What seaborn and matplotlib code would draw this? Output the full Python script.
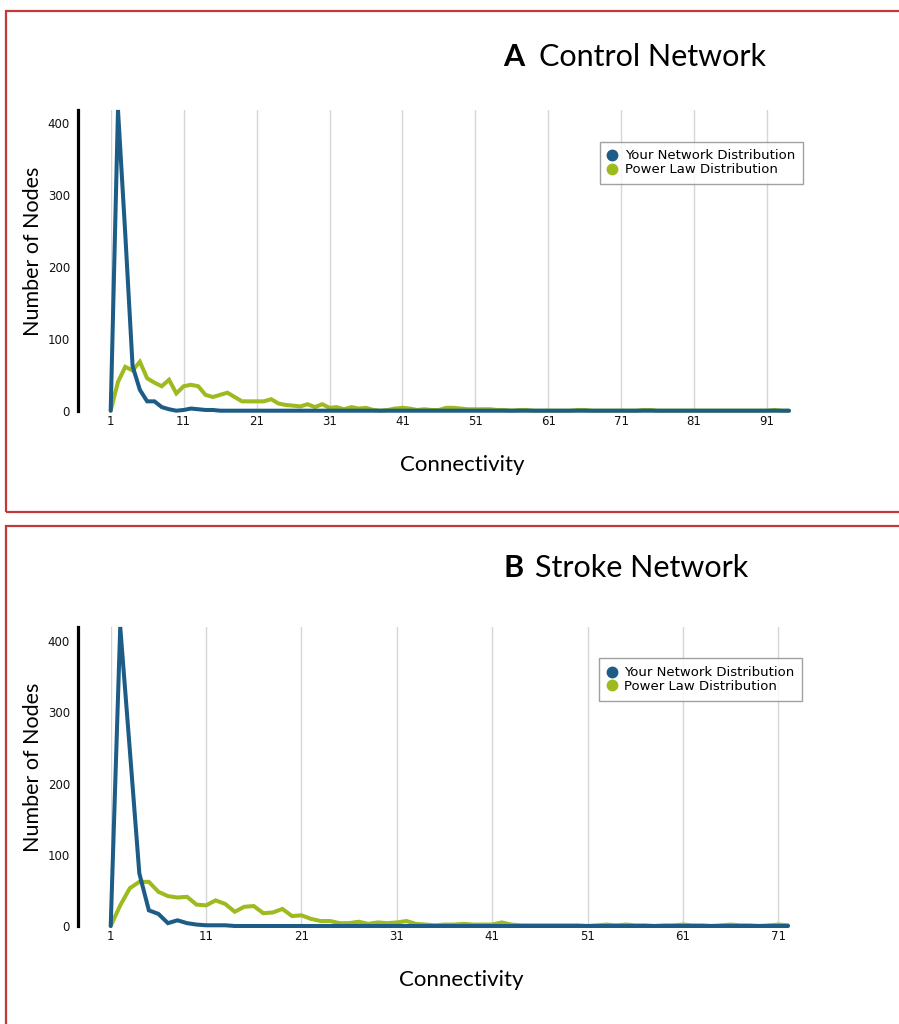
import matplotlib
matplotlib.use("Agg")
import matplotlib.pyplot as plt
from matplotlib.lines import Line2D
from matplotlib.patches import Rectangle
import seaborn as sns
import pandas as pd

# ---- data ---------------------------------------------------------------
control_network = [0, 418, 245, 62, 29, 13, 13, 5, 2, 0,
                   1, 3, 2, 1, 1, 0, 0, 0, 0, 0] + [0] * 74
control_power = [0, 40, 61, 56, 68, 45, 39, 34, 43, 24,
                 34, 36, 34, 22, 19, 22, 25, 19, 13, 13,
                 13, 13, 16, 10, 8, 7, 6, 9, 5, 9,
                 4, 5, 2, 5, 3, 4, 1, 0, 1, 3,
                 4, 3, 1, 2, 1, 1, 4, 4, 3, 2,
                 2, 2, 2, 1, 1, 0, 1, 1, 0, 0,
                 0, 0, 0, 0, 1, 1, 0, 0, 0, 0,
                 0, 0, 0, 1, 1, 0, 0, 0, 0, 0,
                 0, 0, 0, 0, 0, 0, 0, 0, 0, 0,
                 0, 1, 0, 0]

stroke_network = [0, 420, 248, 74, 22, 17, 4, 8, 4, 2,
                  1, 1, 1, 0] + [0] * 58
stroke_power = [0, 29, 53, 62, 62, 48, 42, 40, 41, 30,
                29, 36, 31, 20, 27, 28, 18, 19, 24, 14,
                15, 10, 7, 7, 4, 4, 6, 3, 5, 4,
                5, 7, 3, 2, 1, 2, 2, 3, 2, 2,
                2, 5, 2, 1, 1, 1, 1, 1, 1, 1,
                0, 1, 2, 1, 2, 1, 1, 0, 1, 1,
                2, 1, 1, 0, 1, 2, 1, 1, 0, 1,
                2, 1]

series_names = ["Your Network Distribution", "Power Law Distribution"]
series_colors = {"Your Network Distribution": "#1d5c87",
                 "Power Law Distribution": "#9dbb1e"}

panels = [
    ("A", "Control Network", control_network, control_power, list(range(1, 92, 10))),
    ("B", "Stroke Network", stroke_network, stroke_power, list(range(1, 72, 10))),
]

# ---- style --------------------------------------------------------------
sns.set_style("white")
plt.rcParams["font.family"] = ["DejaVu Sans"]
plt.rcParams["text.color"] = "black"
plt.rcParams["axes.labelcolor"] = "black"

W, H = 899, 1024
fig = plt.figure(figsize=(W / 100, H / 100), dpi=100)

# axes rectangles (figure fractions)
axes_rects = [
    (110.7 / W, 1 - 410.7 / H, 678.3 / W, 300.7 / H),
    (110.7 / W, 1 - 926.0 / H, 677.3 / W, 299.0 / H),
]
frame_tops = [10.7, 525.7]
frame_bottoms = [511.7, 1030]
title_y = [57, 568]
title_rest_x = [539, 535]

for i, (letter, name, net, power, ticks) in enumerate(panels):
    # red panel frame
    fig.patches.append(Rectangle((6 / W, 1 - frame_bottoms[i] / H),
                                 (W + 10) / W, (frame_bottoms[i] - frame_tops[i]) / H,
                                 transform=fig.transFigure, fill=False,
                                 edgecolor="#c0393b", linewidth=1.6))
    # panel title
    fig.text(503 / W, 1 - title_y[i] / H, letter, fontsize=22, fontweight="bold",
             family="Lato", va="center", ha="left")
    fig.text(title_rest_x[i] / W, 1 - title_y[i] / H, name, fontsize=22,
             family="Lato", va="center", ha="left")

    ax = fig.add_axes(axes_rects[i])
    n = len(net)
    x = list(range(1, n + 1))
    df = pd.DataFrame({
        "Connectivity": x + x,
        "Nodes": net + power,
        "Series": [series_names[0]] * n + [series_names[1]] * n,
    })
    sns.lineplot(data=df, x="Connectivity", y="Nodes", hue="Series",
                 hue_order=[series_names[1], series_names[0]],
                 palette=series_colors, linewidth=2.9, ax=ax, legend=False)
    for ln in ax.lines:
        ln.set_clip_on(False)
        ln.set_solid_joinstyle("miter")

    ymax = max(net)
    ax.set_xlim(1, n)
    ax.set_ylim(0, ymax)

    # x axis: labels and light vertical grid only
    ax.set_xticks(ticks)
    ax.grid(axis="x", color="#d6d6d6", linewidth=1.0)
    ax.grid(axis="y", visible=False)
    ax.tick_params(axis="x", length=0, pad=3, labelsize=8.5, labelcolor="#111111")
    for s in ("top", "right", "bottom"):
        ax.spines[s].set_visible(False)

    # y axis: offset bracket-style axis
    ax.spines["left"].set_position(("outward", 23.5))
    ax.spines["left"].set_bounds(0, ymax)
    ax.spines["left"].set_linewidth(2.3)
    ax.spines["left"].set_color("black")
    ax.set_yticks([0, 100, 200, 300, 400])
    ax.set_yticks([0, ymax], minor=True)
    ax.tick_params(axis="y", which="major", direction="out", length=4.3, width=0.8,
                   color="#888888", pad=1.5, labelsize=8.5, labelcolor="#111111")
    ax.tick_params(axis="y", which="minor", direction="out", length=4.3, width=2.3,
                   color="black")

    ax.set_xlabel("Connectivity", family="Lato", fontsize=16)
    ax.set_ylabel("Number of Nodes", family="Lato", fontsize=15.5)
    ax.xaxis.set_label_coords(0.518, -0.148)
    ax.yaxis.set_label_coords(-0.1, 0.53)

    handles = [Line2D([], [], linestyle="none", marker="o", markersize=7.5,
                      markerfacecolor=series_colors[s], markeredgecolor=series_colors[s])
               for s in series_names]
    leg = ax.legend(handles, series_names, loc="upper left",
                    bbox_to_anchor=(0.721, 0.895), borderaxespad=0,
                    frameon=True, fancybox=False, edgecolor="#8a8a8a",
                    fontsize=9.5, handlelength=0.7, handletextpad=0.6,
                    labelspacing=0.05, borderpad=0.6)
    leg.get_frame().set_linewidth(1.0)

fig.savefig("out.png", dpi=100, facecolor="white")
